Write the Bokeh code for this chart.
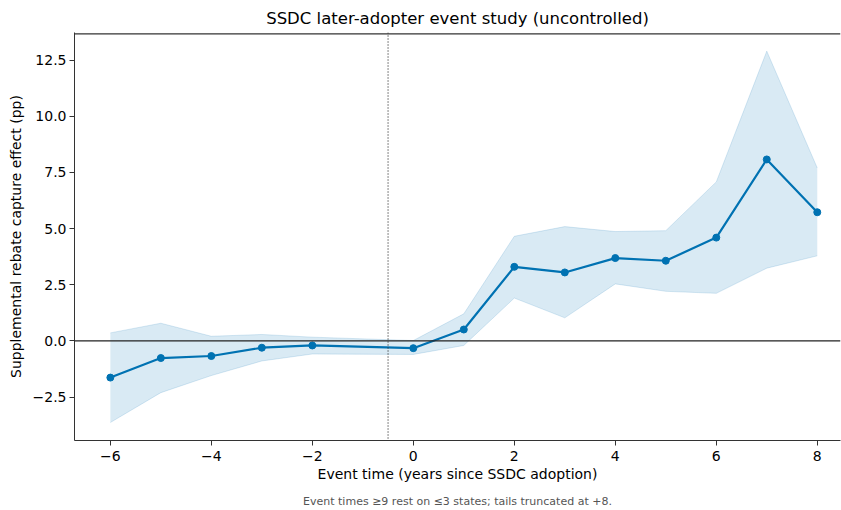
from bokeh.plotting import figure
from bokeh.models import (Range1d, FixedTicker, CustomJSTickFormatter, Span,
                          ColumnDataSource, Band, LinearAxis)
from bokeh.embed import file_html
from bokeh.resources import INLINE

# ---- data ----
event_time = [-6, -5, -4, -3, -2, 0, 1, 2, 3, 4, 5, 6, 7, 8]
estimate   = [-1.63, -0.76, -0.67, -0.30, -0.20, -0.32, 0.51, 3.30, 3.05, 3.69, 3.57, 4.60, 8.08, 5.73]
ci_lower   = [-3.63, -2.30, -1.54, -0.89, -0.58, -0.60, -0.20, 1.91, 1.03, 2.54, 2.21, 2.12, 3.24, 3.79]
ci_upper   = [0.36, 0.79, 0.21, 0.29, 0.17, 0.02, 1.21, 4.66, 5.09, 4.87, 4.91, 7.08, 12.90, 7.70]
x_ticks = [-6, -4, -2, 0, 2, 4, 6, 8]
y_ticks = [-2.5, 0.0, 2.5, 5.0, 7.5, 10.0, 12.5]
adoption_marker = -0.5

TITLE = "SSDC later-adopter event study (uncontrolled)"
XLABEL = "Event time (years since SSDC adoption)"
YLABEL = "Supplemental rebate capture effect (pp)"
NOTE = "Event times \u22659 rest on \u22643 states; tails truncated at +8."

BLUE = "#0072B2"
FONT = "DejaVu Sans"
SPINE = "#333333"

X0, X1 = -6.71, 8.46
Y0, Y1 = -4.43, 13.73

src = ColumnDataSource(dict(x=event_time, y=estimate, lo=ci_lower, hi=ci_upper))

p = figure(width=841, height=510, output_backend="svg", toolbar_location=None,
           x_range=Range1d(X0, X1), y_range=Range1d(Y0, Y1),
           min_border_left=74, min_border_right=1, min_border_top=32, min_border_bottom=69)
p.outline_line_color = None
p.background_fill_color = "white"
p.border_fill_color = "white"
p.xgrid.visible = False
p.ygrid.visible = False

xax = p.below[0]
yax = p.left[0]

# title
p.title.text = TITLE
p.title.align = "center"
p.title.text_font = FONT
p.title.text_font_size = "16.5px"
p.title.text_font_style = "normal"
p.title.text_color = "black"
p.title.standoff = 9
p.title.background_fill_color = None
p.title.border_line_color = None

# band + edges
band = Band(base="x", lower="lo", upper="hi", source=src, fill_color=BLUE, fill_alpha=0.15,
            line_color=BLUE, line_alpha=0.15, line_width=1)
p.add_layout(band)

# top spine as a glyph just inside the top edge of the frame (from the range limits)
spine_src = ColumnDataSource(dict(x0=[X0], x1=[X1], y=[Y1 - 0.06]))
p.segment(x0="x0", y0="y", x1="x1", y1="y", source=spine_src, line_color=SPINE, line_width=1.2)

# reference lines
p.add_layout(Span(location=0, dimension="width", line_color="#222222", line_width=1.2))
p.add_layout(Span(location=adoption_marker, dimension="height", line_color=SPINE,
                  line_width=1.2, line_dash="1 2"))

p.line("x", "y", source=src, line_color=BLUE, line_width=2.2)
p.scatter("x", "y", source=src, size=7, fill_color=BLUE, line_color=BLUE)

# axes
for ax in (xax, yax):
    ax.axis_line_color = SPINE
    ax.axis_line_width = 1
    ax.major_tick_line_color = SPINE
    ax.major_tick_out = 5
    ax.major_tick_in = 0
    ax.minor_tick_line_color = None
    ax.major_label_text_font = FONT
    ax.major_label_text_font_size = "14px"
    ax.major_label_text_color = "black"
    ax.axis_label_text_font = FONT
    ax.axis_label_text_font_size = "14px"
    ax.axis_label_text_font_style = "normal"
    ax.axis_label_text_color = "black"
    ax.major_label_standoff = 3

xax.ticker = FixedTicker(ticks=x_ticks)
yax.ticker = FixedTicker(ticks=y_ticks)
xax.formatter = CustomJSTickFormatter(code="return tick.toFixed(0).replace('-', '\u2212');")
yax.formatter = CustomJSTickFormatter(code="return tick.toFixed(1).replace('-', '\u2212');")
xax.axis_label = XLABEL
yax.axis_label = YLABEL
xax.major_label_standoff = 5
xax.axis_label_standoff = 2
yax.axis_label_standoff = 6

# footnote: an extra bare axis below the x axis that only carries a label
note = LinearAxis(ticker=FixedTicker(ticks=x_ticks), major_tick_out=1, major_tick_in=0,
                  major_tick_line_color=None, minor_tick_line_color=None,
                  major_label_standoff=0, major_label_text_font_size="0px",
                  major_label_text_color=None, axis_line_color=None,
                  axis_label=NOTE, axis_label_standoff=9, axis_label_text_font=FONT,
                  axis_label_text_font_size="11px", axis_label_text_font_style="normal",
                  axis_label_text_color="#555555")
p.add_layout(note, "below")

open("out.html", "w").write(file_html(p, INLINE))
